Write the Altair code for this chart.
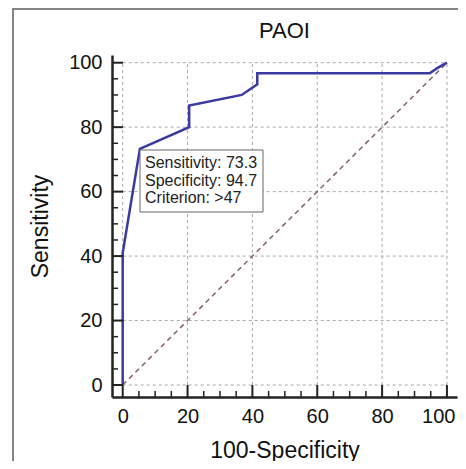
import altair as alt
import pandas as pd

# ROC curve points (100-Specificity, Sensitivity)
roc_x = [0, 0, 5.3, 20.5, 20.5, 36.7, 41.5, 41.5, 94.7, 97.0, 100]
roc_y = [0, 41.0, 73.3, 80.0, 86.7, 90.0, 93.3, 96.7, 96.7, 98.3, 100]

diag_x = [0, 100]
diag_y = [0, 100]

major_ticks = [0, 20, 40, 60, 80, 100]
minor_ticks = [5, 10, 15, 25, 30, 35, 45, 50, 55, 65, 70, 75, 85, 90, 95]

annot_lines = ["Sensitivity: 73.3", "Specificity: 94.7", "Criterion: >47"]
title_text = "PAOI"
x_title = "100-Specificity"
y_title = "Sensitivity"

FONT = "Liberation Sans"
W, H = 345, 342

xscale = alt.Scale(domain=[-3.3, 103.1], nice=False, zero=False)
yscale = alt.Scale(domain=[-3.72, 102.39], nice=False, zero=False)

x_axis = alt.Axis(values=major_ticks, grid=False, ticks=False, tickSize=0,
                  domain=True, domainColor="#222222", domainWidth=2.5,
                  labelFontSize=20, labelPadding=9, labelColor="#111111",
                  labelFont=FONT, labelFlush=10.5, labelFlushOffset=8,
                  title=x_title, titleFontSize=23, titleFont=FONT,
                  titleFontWeight="normal", titleColor="#111111",
                  titleBaseline="alphabetic", titleY=60)
y_axis = alt.Axis(values=major_ticks, grid=False, ticks=False, tickSize=0,
                  domain=True, domainColor="#222222", domainWidth=2.5,
                  labelFontSize=20, labelPadding=10, labelColor="#111111",
                  labelFont=FONT, labelFlush=False,
                  title=y_title, titleFontSize=23, titleFont=FONT,
                  titleFontWeight="normal", titleColor="#111111",
                  titleBaseline="alphabetic", titleX=-65, titleY=171)

def X(field="x"):
    return alt.X(f"{field}:Q", scale=xscale, axis=x_axis)

def Y(field="y"):
    return alt.Y(f"{field}:Q", scale=yscale, axis=y_axis)

roc_df = pd.DataFrame({"x": roc_x, "y": roc_y, "i": list(range(len(roc_x)))})
diag_df = pd.DataFrame({"x": diag_x, "y": diag_y, "i": [0, 1]})

grid_rows = []
for v in major_ticks:
    grid_rows.append({"x": v, "x2": v, "y": 0, "y2": 100})
    grid_rows.append({"x": 0, "x2": 100, "y": v, "y2": v})
grid_df = pd.DataFrame(grid_rows)

one = pd.DataFrame({"a": [0]})

border = alt.Chart(one).mark_rect(fillOpacity=0, stroke="#858585", strokeWidth=2).encode(
    x=alt.value(-99), x2=alt.value(400), y=alt.value(-46), y2=alt.value(500))

grid = alt.Chart(grid_df).mark_rule(color="#a8a8a8", strokeDash=[3, 3], strokeWidth=1).encode(
    x=X("x"), x2="x2:Q", y=Y("y"), y2="y2:Q")

diag = alt.Chart(diag_df).mark_line(color="#866070", strokeDash=[5, 4], strokeWidth=1.5).encode(
    x=X(), y=Y(), order="i:Q")

curve = alt.Chart(roc_df).mark_line(color="#3a3aa0", strokeWidth=2.5).encode(
    x=X(), y=Y(), order="i:Q")

xmaj = alt.Chart(pd.DataFrame({"x": major_ticks})).mark_rule(color="#222222", strokeWidth=2).encode(
    x=X(), y=alt.value(H), y2=alt.value(H - 12))
xmin = alt.Chart(pd.DataFrame({"x": minor_ticks})).mark_rule(color="#222222", strokeWidth=1.5).encode(
    x=X(), y=alt.value(H), y2=alt.value(H - 6))
ymaj = alt.Chart(pd.DataFrame({"y": major_ticks})).mark_rule(color="#222222", strokeWidth=2).encode(
    y=Y(), x=alt.value(0), x2=alt.value(11))
ymin = alt.Chart(pd.DataFrame({"y": minor_ticks})).mark_rule(color="#222222", strokeWidth=1.5).encode(
    y=Y(), x=alt.value(0), x2=alt.value(6))

box = alt.Chart(one).mark_rect(fill="white", stroke="#666666", strokeWidth=1).encode(
    x=alt.value(28), x2=alt.value(151), y=alt.value(95), y2=alt.value(157))

txt = alt.Chart(pd.DataFrame({"t": ["\n".join(annot_lines)]})).mark_text(
    align="left", baseline="alphabetic", fontSize=16, font=FONT, color="#222222",
    lineBreak="\n", lineHeight=17.5).encode(
    x=alt.value(33), y=alt.value(113), text="t:N")

ttl = alt.Chart(pd.DataFrame({"t": [title_text]})).mark_text(
    align="center", baseline="alphabetic", fontSize=22, font=FONT, color="#111111").encode(
    x=alt.value(W / 2), y=alt.value(-17), text="t:N")

chart = alt.layer(border, grid, diag, curve, xmaj, xmin, ymaj, ymin, box, txt, ttl).properties(
    width=W, height=H,
    padding={"left": 104, "top": 47, "right": 1, "bottom": 64},
    autosize=alt.AutoSizeParams(type="none"),
    background="white",
).configure_view(stroke=None)

chart.save("out.html", embed_options={"renderer": "svg", "actions": False})
